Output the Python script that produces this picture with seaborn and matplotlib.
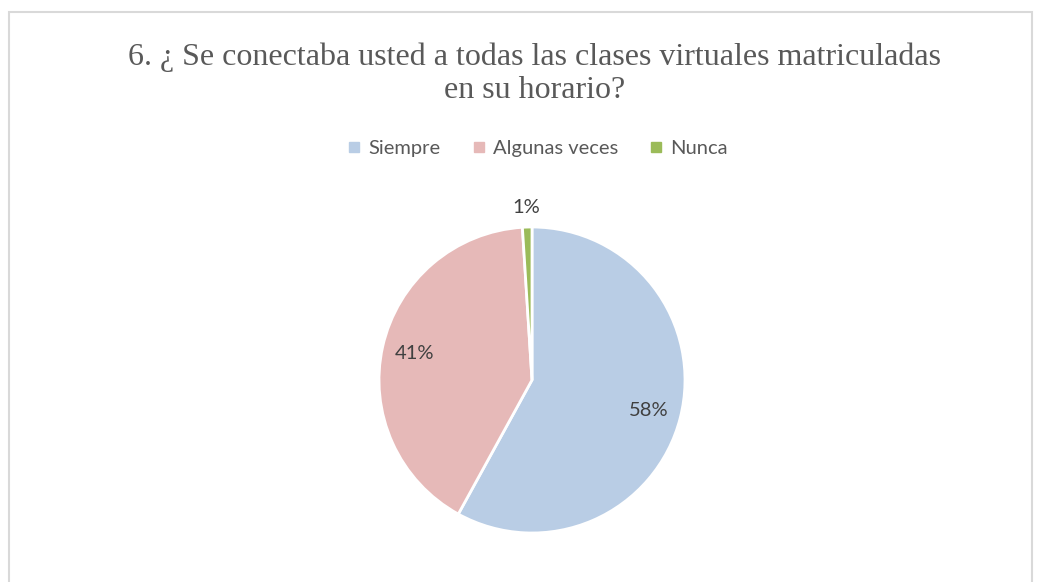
import numpy as np
import seaborn as sns
import matplotlib.pyplot as plt
from matplotlib.lines import Line2D
from matplotlib.patches import Rectangle

categorias = ['Siempre', 'Algunas veces', 'Nunca']
porcentajes = [58, 41, 1]
colores = ['#B9CDE5', '#E6B9B8', '#9BBB59']
titulo = '6. ¿ Se conectaba usted a todas las clases virtuales matriculadas\nen su horario?'

sns.set_style('white')
plt.rcParams['font.family'] = ['Lato', 'DejaVu Sans']

fig = plt.figure(figsize=(10.42, 5.82), dpi=100)
W, H = 1042, 582

# marco gris del gráfico (abajo queda cortado)
fig.patches.append(Rectangle((9 / W, -0.05), (1032 - 9) / W, 1.05 - 12 / H,
                             transform=fig.transFigure, fill=False,
                             edgecolor='#D9D9D9', linewidth=1.5))

r = 153
ax = fig.add_axes([(532 - r) / W, (H - 380 - r) / H, 2 * r / W, 2 * r / H])
wedges, textos, autotextos = ax.pie(
    porcentajes, colors=colores, startangle=90, counterclock=False,
    autopct='%1.0f%%', pctdistance=0.79,
    wedgeprops=dict(edgecolor='white', linewidth=2),
    textprops=dict(color='#404040', fontsize=14.5))
ax.set_xlim(-1, 1)
ax.set_ylim(-1, 1)
ax.set_aspect('equal')
ax.axis('off')

# la etiqueta del 1% va afuera del sector
w = wedges[2]
ang = np.deg2rad((w.theta1 + w.theta2) / 2)
autotextos[2].set_position((1.13 * np.cos(ang), 1.13 * np.sin(ang)))

fig.text(535 / W, 1 - 74 / H, titulo, ha='center', va='center',
         fontsize=23, color='#595959', family=['Liberation Serif', 'DejaVu Serif'],
         linespacing=1.2)

handles = [Line2D([0], [0], marker='s', linestyle='', markersize=7.5,
                  markerfacecolor=c, markeredgecolor=c) for c in colores]
fig.legend(handles, categorias, loc='center', bbox_to_anchor=(537 / W, 1 - 148 / H),
           ncol=3, frameon=False, fontsize=14.5, labelcolor='#595959',
           handletextpad=0.3, columnspacing=1.5, handlelength=0.8)

fig.savefig('out.png', dpi=100, facecolor='white')
